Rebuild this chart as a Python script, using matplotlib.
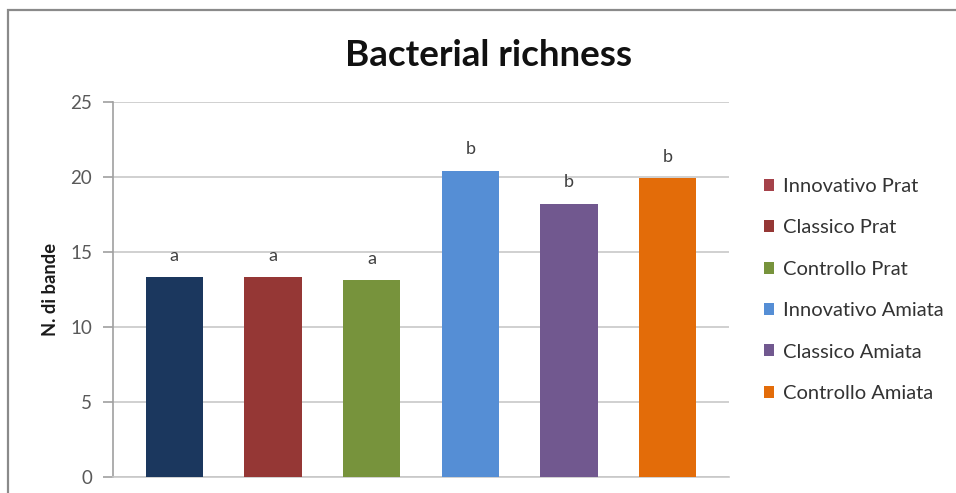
import matplotlib
matplotlib.use("Agg")
import matplotlib.pyplot as plt
from matplotlib.patches import Patch, Rectangle

# Data
categories = ["Innovativo Prat", "Classico Prat", "Controllo Prat",
              "Innovativo Amiata", "Classico Amiata", "Controllo Amiata"]
values = [13.3, 13.3, 13.1, 20.4, 18.2, 19.9]
letters = ["a", "a", "a", "b", "b", "b"]
bar_colors = ["#1B375E", "#953735", "#77933C", "#558ED5", "#71588F", "#E36C09"]
legend_colors = ["#A5424A", "#953735", "#77933C", "#558ED5", "#71588F", "#E36C09"]
yticks = [0, 5, 10, 15, 20, 25]

W, H = 956, 493
fig = plt.figure(figsize=(W / 100, H / 100), dpi=100)
fig.patch.set_facecolor("white")

# chart frame (top and left edges visible)
fig.patches.append(Rectangle((8 / W, -0.2), 1.5, 1.2 - 10 / H,
                             transform=fig.transFigure, fill=False,
                             edgecolor="#8A8A8A", linewidth=1.6, zorder=0))

ax = fig.add_axes([113 / W, (H - 476.5) / H, (729 - 113) / W, (476.5 - 102) / H])
x = list(range(len(values)))
bars = ax.bar(x, values, width=0.58, color=bar_colors, zorder=3)

ax.set_xlim(-0.62, 5.62)
ax.set_ylim(0, 25)
ax.set_yticks(yticks)
ax.set_xticks([])

ax.grid(axis="y", color="#C8C8C8", linewidth=1.2, zorder=0)
for s in ["top", "right"]:
    ax.spines[s].set_visible(False)
ax.spines["left"].set_color("#A0A0A0")
ax.spines["left"].set_linewidth(1.2)
ax.spines["bottom"].set_color("#C8C8C8")
ax.spines["bottom"].set_linewidth(1.2)
ax.tick_params(axis="y", direction="out", length=7, width=1.2, color="#A0A0A0",
               pad=8, labelsize=13.5, labelcolor="#595959")
for lab in ax.get_yticklabels():
    lab.set_family("Lato")

# significance letters above bars
for xi, v, t in zip(x, values, letters):
    ax.annotate(t, (xi, v), xytext=(0, 15.5), textcoords="offset points",
                ha="center", va="center", fontsize=13, color="#404040",
                family="Lato")

ax.set_ylabel("N. di bande", fontsize=13.2, fontweight="bold", family="Lato",
              color="#1A1A1A", labelpad=8)

fig.text((345 + 632) / 2 / W, 1 - 55 / H, "Bacterial richness", ha="center",
         va="center", fontsize=26.5, fontweight="bold", family="Lato",
         color="#111111")

handles = [Patch(facecolor=c, edgecolor="none") for c in legend_colors]
fig.legend(handles, categories, loc="center left",
           bbox_to_anchor=(764 / W, 1 - 290 / H), frameon=False,
           prop={"family": "Lato", "size": 14.5}, labelcolor="#333333",
           handlelength=0.5, handleheight=0.55, handletextpad=0.45,
           labelspacing=1.21, borderaxespad=0, borderpad=0)

fig.savefig("out.png", dpi=100)
